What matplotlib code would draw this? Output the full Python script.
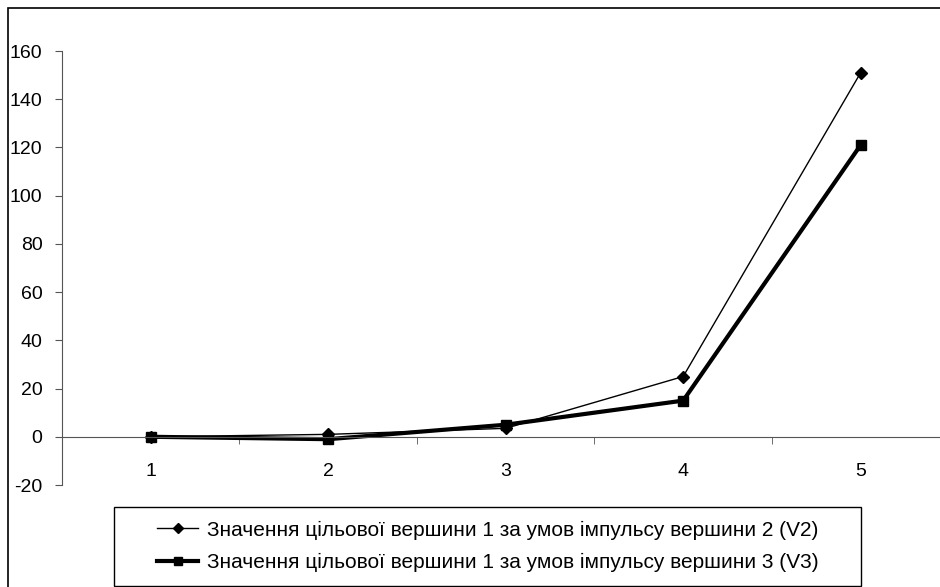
import matplotlib
matplotlib.use("Agg")
import matplotlib.pyplot as plt
from matplotlib.patches import Rectangle

plt.rcParams["font.family"] = ["Liberation Sans", "DejaVu Sans"]
plt.rcParams["axes.unicode_minus"] = False

categories = ["1", "2", "3", "4", "5"]
v2_values = [0, 1, 3.5, 25, 151]
v3_values = [0, -1, 5, 15, 121]
v2_label = "Значення цільової вершини 1 за умов імпульсу вершини 2 (V2)"
v3_label = "Значення цільової вершини 1 за умов імпульсу вершини 3 (V3)"
y_ticks = [-20, 0, 20, 40, 60, 80, 100, 120, 140, 160]

W, H = 940, 587
fig = plt.figure(figsize=(W / 100, H / 100), dpi=100)
ax = fig.add_axes([62 / W, 1 - 485 / H, (W - 62) / W + 0.01, 434 / H])

x = list(range(1, len(categories) + 1))
ax.plot(x, v2_values, color="black", lw=1, marker="D", ms=6.5, label=v2_label)
ax.plot(x, v3_values, color="black", lw=3, marker="s", ms=7.5, label=v3_label)

ax.set_xlim(0.5, 5.5)
ax.set_ylim(-20, 160)
ax.set_yticks(y_ticks)
ax.set_xticks(x)
ax.set_xticklabels(categories)
ax.set_xticks([i + 0.5 for i in x[:-1]], minor=True)
ax.tick_params(axis="x", which="major", length=0, pad=19, labelsize=14)
ax.tick_params(axis="x", which="minor", length=5, direction="out", color="#555555")
ax.tick_params(axis="y", length=5, direction="out", color="#555555", labelsize=14, pad=9)

for side in ("top", "right"):
    ax.spines[side].set_visible(False)
ax.spines["bottom"].set_position(("data", 0))
ax.spines["bottom"].set_color("#555555")
ax.spines["left"].set_color("#555555")

# outer chart border, cut off at right and bottom
fig.patches.append(Rectangle((8 / W, -0.1), 1.2, 1 - 8 / H + 0.1, transform=fig.transFigure,
                             fill=False, edgecolor="black", lw=1.2))

# legend box
fig.patches.append(Rectangle((114 / W, 1 - 586 / H), (861 - 114) / W, (586 - 507) / H,
                             transform=fig.transFigure, fill=False, edgecolor="black", lw=1))
fig.legend(loc="center", bbox_to_anchor=(487.5 / W, 1 - 546.5 / H), fontsize=15,
           frameon=False, handlelength=2.0, handletextpad=0.4, labelspacing=0.65,
           borderpad=0, borderaxespad=0, markerscale=0.8)

fig.savefig("out.png", dpi=100)
